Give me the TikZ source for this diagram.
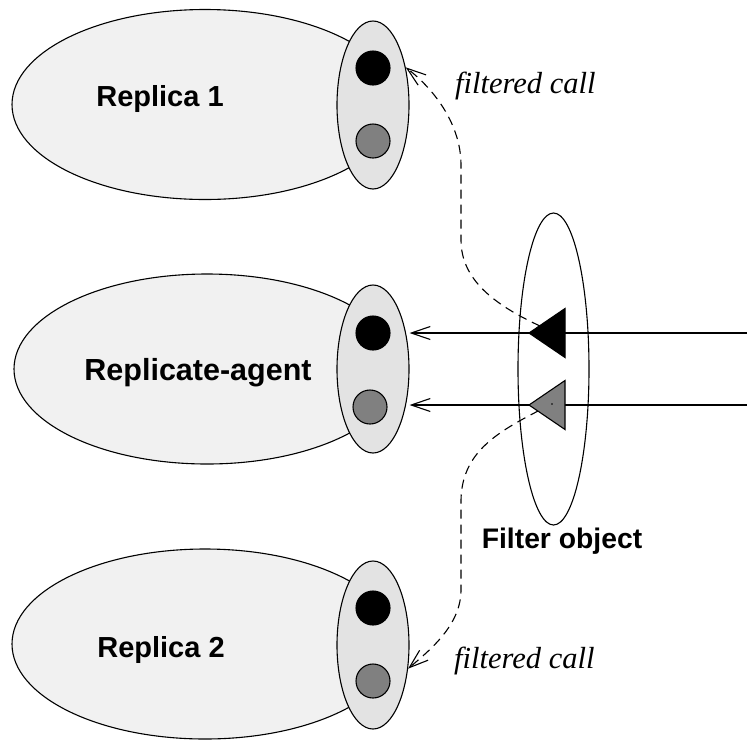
\documentclass[tikz,border=0pt]{standalone}
\usepackage{fontspec}
\setmainfont{Liberation Serif}
\newfontfamily\labelsans{Liberation Sans}
\usetikzlibrary{shapes.geometric,arrows.meta}

\definecolor{hostfill}{gray}{0.945}
\definecolor{portfill}{gray}{0.89}
\definecolor{midgray}{gray}{0.5}

\tikzset{
  outline/.style={draw=black, line width=1.1pt},
  host/.style={outline, ellipse, fill=hostfill, minimum width=386pt, minimum height=190pt, inner sep=0pt},
  port/.style={outline, ellipse, fill=portfill, minimum width=72pt, minimum height=168pt, inner sep=0pt},
  filterbox/.style={outline, ellipse, minimum width=71pt, minimum height=312pt, inner sep=0pt},
  blackdot/.style={outline, circle, fill=black, minimum size=34pt, inner sep=0pt},
  graydot/.style={outline, circle, fill=midgray, minimum size=34pt, inner sep=0pt},
  hostlabel/.style={anchor=base, inner sep=0pt, font=\labelsans\bfseries\fontsize{29}{32}\selectfont},
  calllabel/.style={anchor=base west, inner sep=0pt, font=\itshape\fontsize{30.5}{34}\selectfont},
  barb/.style={-{Straight Barb[length=19pt,width=13pt,line width=1.1pt]}},
  wire/.style={barb, line width=1.2pt},
  callpath/.style={barb, line width=1.1pt, dash pattern=on 9pt off 6pt},
  tri/.style={outline}
}

\begin{document}
\begin{tikzpicture}[x=1pt,y=-1pt]
  \useasboundingbox (0,0) rectangle (747,740);

  % replicas and their interface ports
  \node[host] (rep1) at (205,104.5) {};
  \node[host] (agent) at (207,369) {};
  \node[host] (rep2) at (205,644) {};

  \node[port] (rep1port) at (373,105) {};
  \node[port] (agentport) at (373,369) {};
  \node[port] (rep2port) at (373,645) {};

  \node[blackdot] (rep1a) at (373,68) {};
  \node[graydot]  (rep1b) at (373,141) {};
  \node[blackdot] (agenta) at (373,333) {};
  \node[graydot]  (agentb) at (370,407) {};
  \node[blackdot] (rep2a) at (373,608) {};
  \node[graydot]  (rep2b) at (373,681) {};

  \node[hostlabel] (rep1label) at (160,106) {Replica 1};
  \node[hostlabel, font=\labelsans\bfseries\fontsize{30.5}{33}\selectfont] (agentlabel) at (198,380) {Replicate-agent};
  \node[hostlabel] (rep2label) at (161,657) {Replica 2};

  % the filter object sitting on the incoming calls
  \node[filterbox] (filter) at (553.5,369) {};
  \node[hostlabel, font=\labelsans\bfseries\fontsize{28.3}{31}\selectfont] (filterlabel) at (562,548) {Filter object};

  % incoming calls
  \coordinate (inA) at (747,333);
  \coordinate (inB) at (747,405);
  \draw[wire] (inA) -- (inA -| agentport.east);
  \draw[wire] (inB) -- (inB -| agentport.east);

  % filtered calls forwarded to the replicas
  \coordinate (fA) at (540,326);
  \coordinate (fB) at (552,404);
  \draw[callpath] (fA) .. controls (495,305) and (461,280) .. (461,240)
                  -- (461,165) .. controls (461,125) and (435,90) .. (rep1port.49);
  \draw[callpath] (fB) .. controls (500,430) and (462,450) .. (461,500)
                  -- (461,590) .. controls (461,625) and (430,650) .. (rep2port.-34);

  % filter triangles
  \filldraw[tri, fill=black] (529,333) -- (565,308.5) -- (565,357.5) -- cycle;
  \filldraw[tri, fill=midgray] (529,405) -- (565,380.5) -- (565,429.5) -- cycle;
  \fill (552,404) circle (0.9pt);

  \node[calllabel] (calltop) at (455,93) {filtered call};
  \node[calllabel] (callbottom) at (454,668) {filtered call};
\end{tikzpicture}
\end{document}
